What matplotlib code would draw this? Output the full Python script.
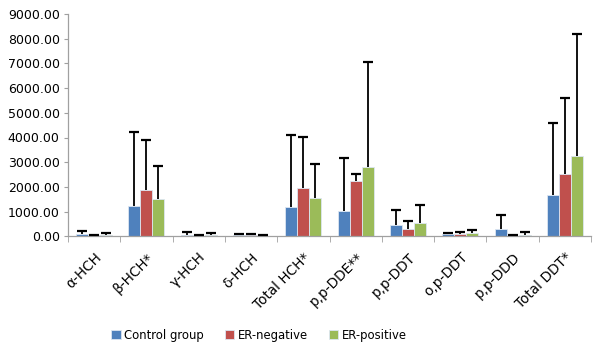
import numpy as np
import matplotlib
matplotlib.use('Agg')
import matplotlib.pyplot as plt

categories = ['α-HCH', 'β-HCH*', 'γ-HCH', 'δ-HCH', 'Total HCH*',
              'p,p-DDE**', 'p,p-DDT', 'o,p-DDT', 'p,p-DDD', 'Total DDT*']
series = ['Control group', 'ER-negative', 'ER-positive']
colors = ['#4F81BD', '#C0504D', '#9BBB59']

# bar heights (mean)
control = [90, 1240, 60, 40, 1175, 1040, 460, 80, 310, 1670]
er_neg = [60, 1860, 30, 40, 1940, 2240, 300, 80, 30, 2510]
er_pos = [70, 1500, 60, 30, 1540, 2800, 525, 120, 50, 3260]

# top of the error bar
control_top = [210, 4220, 170, 90, 4100, 3180, 1050, 145, 860, 4600]
er_neg_top = [70, 3900, 40, 80, 4030, 2520, 600, 190, 60, 5610]
er_pos_top = [140, 2850, 140, 50, 2930, 7070, 1280, 255, 160, 8200]

means = [control, er_neg, er_pos]
tops = [control_top, er_neg_top, er_pos_top]

fig = plt.figure(figsize=(6, 3.48), dpi=100)
ax = fig.add_axes([68 / 600, (348 - 236.3) / 348, (591 - 68) / 600, 222.3 / 348])

x = np.arange(len(categories))
w = 0.23
for i, (m, t, c, lab) in enumerate(zip(means, tops, colors, series)):
    m = np.array(m, dtype=float)
    t = np.array(t, dtype=float)
    pos = x + (i - 1) * w
    ax.bar(pos, m, w, color=c, edgecolor='#dce6f2', linewidth=0.6, label=lab, zorder=2)
    err = np.clip(t - m, 0, None)
    eb = ax.errorbar(pos, m, yerr=[np.zeros_like(err), err], fmt='none', ecolor='black',
                     elinewidth=1.3, capsize=3.5, capthick=1.6, zorder=3)
    # only the upper cap, like the original
    eb[1][0].set_visible(False)

ax.set_xlim(-0.5, len(categories) - 0.5)
ax.set_ylim(0, 9000)
ax.set_yticks(np.arange(0, 9001, 1000))
ax.set_yticklabels([f'{v:.2f}' for v in np.arange(0, 9001, 1000)], fontsize=9)
ax.set_xticks(x)
ax.set_xticklabels(categories, rotation=45, ha='right', rotation_mode='anchor', fontsize=9.8)
ax.set_xticks(np.arange(-0.5, len(categories), 1), minor=True)
ax.tick_params(axis='x', which='major', length=0, pad=10)
ax.tick_params(axis='x', which='minor', length=4, color='#a0a0a0')
ax.tick_params(axis='y', length=3, color='#a0a0a0', pad=3)

for s in ['top', 'right']:
    ax.spines[s].set_visible(False)
for s in ['left', 'bottom']:
    ax.spines[s].set_color('#a0a0a0')
    ax.spines[s].set_linewidth(0.9)

ax.legend(loc='center', bbox_to_anchor=(0.365, -0.445), ncol=3, frameon=False,
          fontsize=8.4, handlelength=0.8, handleheight=0.8, columnspacing=1.8,
          handletextpad=0.3)

fig.savefig('out.png', dpi=100)
